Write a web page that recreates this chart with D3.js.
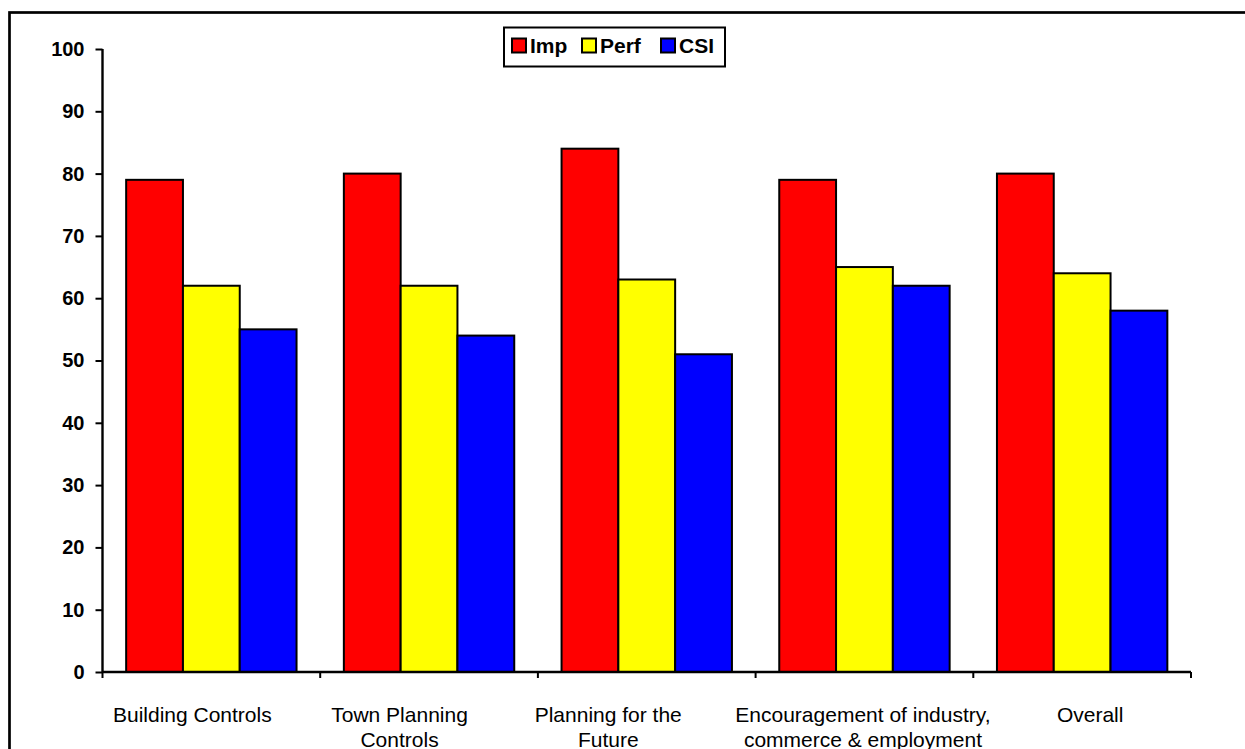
<!DOCTYPE html>
<html>
<head>
<meta charset="utf-8">
<script src="https://cdn.jsdelivr.net/npm/d3@7"></script>
<style>
  html, body { margin: 0; padding: 0; background: #fff; overflow: hidden; }
  svg { display: block; font-family: "Liberation Sans", Arial, sans-serif; }
</style>
</head>
<body>
<script>
// Customer satisfaction survey: importance, performance and CSI per service area
const categories = [
  "Building Controls",
  "Town Planning Controls",
  "Planning for the Future",
  "Encouragement of industry, commerce & employment",
  "Overall"
];
// How each category label breaks onto lines under the axis
const categoryLines = [
  ["Building Controls"],
  ["Town Planning", "Controls"],
  ["Planning for the", "Future"],
  ["Encouragement of industry,", "commerce & employment"],
  ["Overall"]
];
const seriesNames = ["Imp", "Perf", "CSI"];
const seriesColors = ["#ff0000", "#ffff00", "#0000ff"];
const impValues  = [79, 80, 84, 79, 80];
const perfValues = [62, 62, 63, 65, 64];
const csiValues  = [55, 54, 51, 62, 58];
const yTicks = [0, 10, 20, 30, 40, 50, 60, 70, 80, 90, 100];

const seriesValues = [impValues, perfValues, csiValues];

// horizontal nudge of each category label from its band centre (px)
const labelNudge = [-19, -29.5, -38.5, -1.5, 8];

const W = 1245, H = 749;
const svg = d3.select("body").append("svg").attr("width", W).attr("height", H);

// outer chart frame (its right and bottom edges fall outside the page)
svg.append("rect")
  .attr("x", 9.5).attr("y", 12.5)
  .attr("width", W + 20).attr("height", H + 20)
  .attr("fill", "none").attr("stroke", "#000").attr("stroke-width", 2.7);

const plot = { left: 102.5, right: 1191, top: 49, bottom: 672 };

const x = d3.scaleBand()
  .domain(categories)
  .range([plot.left, plot.right])
  .paddingInner(0).paddingOuter(0);

const xs = d3.scaleBand()
  .domain(seriesNames)
  .range([0, x.bandwidth()])
  .paddingInner(0).paddingOuter(0.4165);

const y = d3.scaleLinear().domain([0, 100]).range([plot.bottom, plot.top]);

// bars
const groups = svg.append("g").selectAll("g")
  .data(categories)
  .join("g")
  .attr("transform", c => `translate(${x(c)},0)`);

groups.selectAll("rect")
  .data((c, ci) => seriesNames.map((s, si) => ({ s, si, v: seriesValues[si][ci] })))
  .join("rect")
  .attr("x", d => xs(d.s))
  .attr("width", xs.bandwidth())
  .attr("y", d => y(d.v))
  .attr("height", d => y(0) - y(d.v))
  .attr("fill", d => seriesColors[d.si])
  .attr("stroke", "#000")
  .attr("stroke-width", 2);

// y axis
const yAxis = svg.append("g")
  .attr("transform", `translate(${plot.left},0)`)
  .call(d3.axisLeft(y).tickValues(yTicks).tickSize(7).tickPadding(11).tickFormat(d3.format("d")));
yAxis.select(".domain").attr("stroke", "#000").attr("stroke-width", 2.4).attr("d", `M0,${plot.top}V${plot.bottom}`);
yAxis.selectAll(".tick line").attr("stroke", "#000").attr("stroke-width", 2);
yAxis.selectAll(".tick text")
  .attr("fill", "#000")
  .style("font-size", "20px")
  .style("font-weight", "bold")
  .style("font-family", "'Liberation Sans', Arial, sans-serif");

// x axis line with ticks at category boundaries
const xAxis = svg.append("g");
xAxis.append("line")
  .attr("x1", plot.left).attr("x2", plot.right)
  .attr("y1", plot.bottom).attr("y2", plot.bottom)
  .attr("stroke", "#000").attr("stroke-width", 2.4);
const boundaries = categories.map(c => x(c)).concat([x(categories[categories.length - 1]) + x.bandwidth()]);
xAxis.selectAll("line.tk")
  .data(boundaries)
  .join("line")
  .attr("class", "tk")
  .attr("x1", d => d).attr("x2", d => d)
  .attr("y1", plot.bottom).attr("y2", plot.bottom + 6)
  .attr("stroke", "#000").attr("stroke-width", 2);

// category labels
const labels = svg.append("g").selectAll("text")
  .data(categories)
  .join("text")
  .attr("x", (c, i) => x(c) + x.bandwidth() / 2 + labelNudge[i])
  .attr("y", 722)
  .attr("text-anchor", "middle")
  .attr("fill", "#000")
  .style("font-size", "21px");
labels.selectAll("tspan")
  .data((c, i) => categoryLines[i])
  .join("tspan")
  .attr("x", function () { return this.parentNode.getAttribute("x"); })
  .attr("dy", (d, i) => i === 0 ? 0 : 25)
  .text(d => d);

// legend
const legend = svg.append("g");
legend.append("rect")
  .attr("x", 504).attr("y", 27.5)
  .attr("width", 221).attr("height", 39)
  .attr("fill", "#fff").attr("stroke", "#000").attr("stroke-width", 2);
const legendX = [512, 582, 661];
const items = legend.selectAll("g.item")
  .data(seriesNames)
  .join("g")
  .attr("class", "item")
  .attr("transform", (d, i) => `translate(${legendX[i]},0)`);
items.append("rect")
  .attr("x", 0).attr("y", 38.5)
  .attr("width", 14).attr("height", 14)
  .attr("fill", (d, i) => seriesColors[i])
  .attr("stroke", "#000").attr("stroke-width", 2);
items.append("text")
  .attr("x", 18).attr("y", 53)
  .attr("fill", "#000")
  .style("font-size", "21px")
  .style("font-weight", "bold")
  .text(d => d);
</script>
</body>
</html>
